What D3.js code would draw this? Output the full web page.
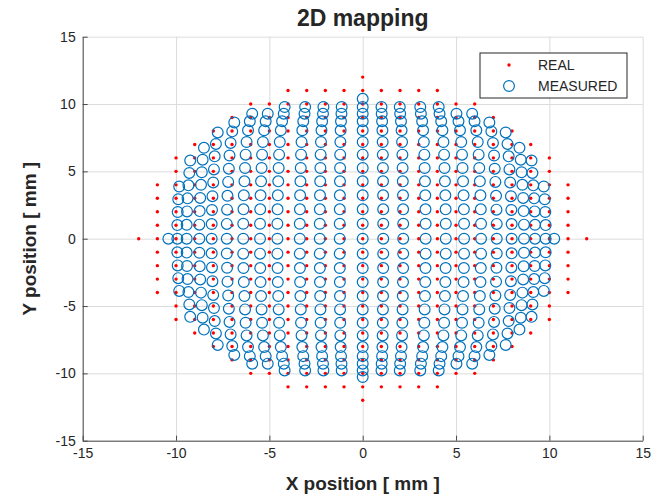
<!DOCTYPE html>
<html>
<head>
<meta charset="utf-8">
<script src="https://cdn.jsdelivr.net/npm/d3@7"></script>
<style>
  body { margin: 0; background: #fff; }
  svg text { font-family: "Liberation Sans", Arial, Helvetica, sans-serif; fill: #262626; }
  .grid line { stroke: #dcdcdc; stroke-width: 1; }
  .grid path { display: none; }
  .axis path, .axis line { stroke: #4a4a4a; }
</style>
</head>
<body>
<svg id="chart"></svg>
<script>
// grid of real positions (x columns, half height of each column in mm)
const gridX    = [-12, -11, -10, -9, -8, -7, -6, -5, -4, -3, -2, -1, 0, 1, 2, 3, 4, 5, 6, 7, 8, 9, 10, 11, 12];
const colHalf  = [0, 4, 6, 7, 8, 9, 10, 10, 11, 11, 11, 11, 12, 11, 11, 11, 11, 10, 10, 9, 8, 7, 6, 4, 0];
const gridY    = [-12, -11, -10, -9, -8, -7, -6, -5, -4, -3, -2, -1, 0, 1, 2, 3, 4, 5, 6, 7, 8, 9, 10, 11, 12];

// measured position read for each real x (row y=0) and each real y (column x=0)
const measX = [-10.41, -9.93, -9.43, -8.75, -8.09, -7.28, -6.40, -5.50, -4.57, -3.37, -2.30, -1.23, 0,
               1.10, 2.17, 3.37, 4.45, 5.43, 6.34, 7.18, 7.98, 8.64, 9.23, 9.80, 10.26];
const measY = [-10.27, -9.78, -9.28, -8.72, -8.05, -7.18, -6.24, -5.25, -4.26, -3.22, -2.18, -1.11, 0,
               1.11, 2.18, 3.22, 4.26, 5.25, 6.24, 7.18, 8.05, 8.72, 9.28, 9.78, 10.39];
// shrink of measured x by |y| row, and of measured y by |x| column
const rowShrink = [1, 1, 0.998, 0.995, 0.99, 0.985, 0.98, 0.972, 0.96, 0.945, 0.925, 0.915, 0.91];
const colShrink = [1, 1, 1, 1, 1, 1, 1, 0.99, 0.98, 0.94, 0.93, 0.91, 1];

const ticks = [-15, -10, -5, 0, 5, 10, 15];

const width = 655;
const height = 495;
const m = {left: 82.7, right: 642.7, top: 36.7, bottom: 440.7};

const svg = d3.select('#chart')
    .attr('width', width)
    .attr('height', height);

const x = d3.scaleLinear().domain([-15, 15]).range([m.left, m.right]);
const y = d3.scaleLinear().domain([-15, 15]).range([m.bottom, m.top]);

// build point lists
const real = [];
const measured = [];
gridX.forEach((gx, i) => {
    gridY.forEach((gy, j) => {
        if (Math.abs(gy) > colHalf[i]) return;
        real.push({x: gx, y: gy});
        measured.push({
            x: measX[i] * rowShrink[Math.abs(gy)],
            y: measY[j] * colShrink[Math.abs(gx)]
        });
    });
});

// grid
svg.append('g').attr('class', 'grid')
    .attr('transform', `translate(0,${m.bottom})`)
    .call(d3.axisBottom(x).tickValues(ticks).tickSize(-(m.bottom - m.top)).tickFormat(''));
svg.append('g').attr('class', 'grid')
    .attr('transform', `translate(${m.left},0)`)
    .call(d3.axisLeft(y).tickValues(ticks).tickSize(-(m.right - m.left)).tickFormat(''));

// axes (plain hyphen for negative labels, like the original)
const fmt = d => String(d);
const xAxis = svg.append('g').attr('class', 'axis')
    .attr('transform', `translate(0,${m.bottom})`)
    .call(d3.axisBottom(x).tickValues(ticks).tickFormat(fmt).tickSizeInner(-5).tickSizeOuter(0).tickPadding(6));
const yAxis = svg.append('g').attr('class', 'axis')
    .attr('transform', `translate(${m.left},0)`)
    .call(d3.axisLeft(y).tickValues(ticks).tickFormat(fmt).tickSizeInner(-5).tickSizeOuter(0).tickPadding(7));
svg.selectAll('.axis text').style('font-size', '14px').attr('fill', '#262626');
xAxis.selectAll('text').attr('y', 7);

// real points
svg.append('g').selectAll('circle')
    .data(real)
    .enter()
    .append('circle')
    .attr('cx', d => x(d.x))
    .attr('cy', d => y(d.y))
    .attr('r', 1.7)
    .attr('fill', '#ff0000');

// measured points
svg.append('g').selectAll('circle')
    .data(measured)
    .enter()
    .append('circle')
    .attr('cx', d => x(d.x))
    .attr('cy', d => y(d.y))
    .attr('r', 5.4)
    .attr('fill', 'none')
    .attr('stroke', '#0072bd')
    .attr('stroke-width', 1.2);

// title and labels
svg.append('text')
    .attr('x', (m.left + m.right) / 2).attr('y', 26)
    .attr('text-anchor', 'middle')
    .style('font-size', '23px').style('font-weight', 'bold')
    .text('2D mapping');
svg.append('text')
    .attr('x', (m.left + m.right) / 2).attr('y', 490)
    .attr('text-anchor', 'middle')
    .style('font-size', '19px').style('font-weight', 'bold')
    .text('X position [ mm ]');
svg.append('text')
    .attr('transform', `translate(36,${(m.top + m.bottom) / 2}) rotate(-90)`)
    .attr('text-anchor', 'middle')
    .style('font-size', '19px').style('font-weight', 'bold')
    .text('Y position [ mm ]');

// legend
const lg = svg.append('g');
lg.append('rect')
    .attr('x', 480).attr('y', 53)
    .attr('width', 147).attr('height', 45)
    .attr('fill', '#fff').attr('stroke', '#262626').attr('stroke-width', 1);
lg.append('circle').attr('cx', 509).attr('cy', 65).attr('r', 1.7).attr('fill', '#ff0000');
lg.append('circle').attr('cx', 509).attr('cy', 86).attr('r', 5.4)
    .attr('fill', 'none').attr('stroke', '#0072bd').attr('stroke-width', 1.2);
lg.append('text').attr('x', 538).attr('y', 70).style('font-size', '14px').text('REAL');
lg.append('text').attr('x', 538).attr('y', 91).style('font-size', '14px').text('MEASURED');
</script>
</body>
</html>
